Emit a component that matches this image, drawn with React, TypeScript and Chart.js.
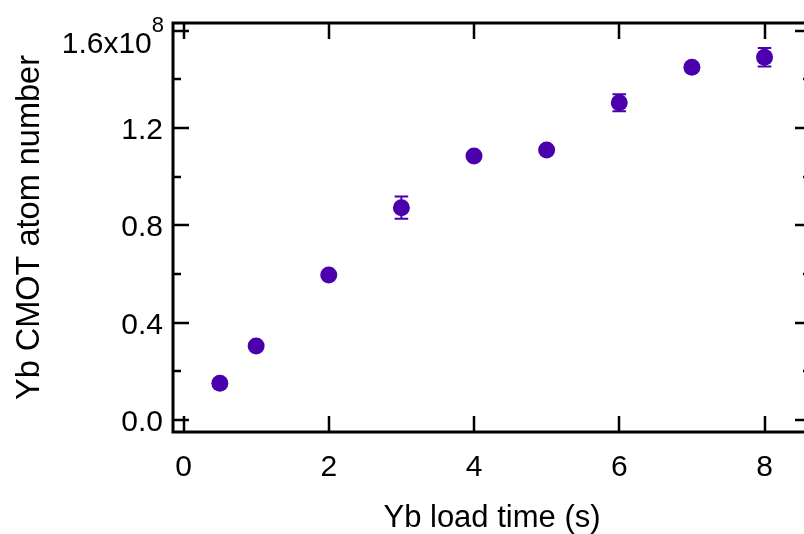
import React, { useEffect, useRef } from "react";
import { Chart, registerables } from "chart.js";

Chart.register(...registerables);

// Yb load time (s)
const loadTime = [0.5, 1, 2, 3, 4, 5, 6, 7, 8];
// Yb CMOT atom number, in units of 1e8
const atomNumber = [0.151, 0.304, 0.596, 0.873, 1.085, 1.11, 1.304, 1.45, 1.491];
const atomError = [0, 0, 0, 0.046, 0, 0, 0.035, 0, 0.038];

const xTickValues = [0, 2, 4, 6, 8];
const yMajorTicks = [0, 0.4, 0.8, 1.2, 1.6];
const yMinorTicks = [0.2, 0.6, 1.0, 1.4];
const yTickLabels = ["0.0", "0.4", "0.8", "1.2", "1.6x10"];
const yTopExponent = "8";

const FONT = "'Liberation Sans', Arial, sans-serif";
const MARK = "#4b00ae";
const TICK_FONT = 30;

const framePlugin = {
  id: "frame",
  beforeDatasetsDraw(chart: any) {
    const ctx = chart.ctx;
    const xs = chart.scales.x;
    const ys = chart.scales.y;
    ctx.save();
    ctx.strokeStyle = MARK;
    ctx.lineWidth = 2;
    const cap = 6.8;
    loadTime.forEach((t, i) => {
      const e = atomError[i];
      if (!e) return;
      const px = xs.getPixelForValue(t);
      const y1 = ys.getPixelForValue(atomNumber[i] + e);
      const y2 = ys.getPixelForValue(atomNumber[i] - e);
      ctx.beginPath();
      ctx.moveTo(px, y1);
      ctx.lineTo(px, y2);
      ctx.moveTo(px - cap, y1);
      ctx.lineTo(px + cap, y1);
      ctx.moveTo(px - cap, y2);
      ctx.lineTo(px + cap, y2);
      ctx.stroke();
    });
    ctx.restore();
  },
  afterDraw(chart: any) {
    const ctx = chart.ctx;
    const { left, right, top, bottom } = chart.chartArea;
    const xs = chart.scales.x;
    const ys = chart.scales.y;
    ctx.save();
    ctx.strokeStyle = "#000";
    ctx.lineCap = "butt";
    ctx.lineWidth = 2.5;
    const major = 16;
    const minor = 8;
    ctx.beginPath();
    xTickValues.forEach((v) => {
      const px = Math.round(xs.getPixelForValue(v));
      ctx.moveTo(px, bottom);
      ctx.lineTo(px, bottom - major);
      ctx.moveTo(px, top);
      ctx.lineTo(px, top + major);
    });
    yMajorTicks.forEach((v) => {
      const py = Math.round(ys.getPixelForValue(v));
      ctx.moveTo(left, py);
      ctx.lineTo(left + major, py);
      ctx.moveTo(right, py);
      ctx.lineTo(right - major, py);
    });
    yMinorTicks.forEach((v) => {
      const py = Math.round(ys.getPixelForValue(v));
      ctx.moveTo(left, py);
      ctx.lineTo(left + minor, py);
      ctx.moveTo(right, py);
      ctx.lineTo(right - minor, py);
    });
    ctx.stroke();
    ctx.lineWidth = 3;
    ctx.strokeRect(left, top, right - left, bottom - top);
    ctx.fillStyle = "#000";
    ctx.textAlign = "right";
    ctx.textBaseline = "alphabetic";
    const labelRight = left - 10;
    yMajorTicks.forEach((v, i) => {
      const py = ys.getPixelForValue(v);
      if (i === yMajorTicks.length - 1) {
        ctx.font = `22px ${FONT}`;
        const w = ctx.measureText(yTopExponent).width;
        ctx.fillText(yTopExponent, labelRight + 1, py + 1);
        ctx.font = `${TICK_FONT}px ${FONT}`;
        ctx.fillText(yTickLabels[i], labelRight + 1 - w, py + 22.5);
      } else {
        ctx.font = `${TICK_FONT}px ${FONT}`;
        ctx.fillText(yTickLabels[i], labelRight, py + 11);
      }
    });
    ctx.restore();
  },
};

export default function App() {
  const ref = useRef<HTMLCanvasElement | null>(null);
  useEffect(() => {
    if (!ref.current) return;
    const chart = new Chart(ref.current, {
      type: "scatter",
      data: {
        datasets: [
          {
            data: loadTime.map((t, i) => ({ x: t, y: atomNumber[i] })),
            backgroundColor: MARK,
            borderColor: MARK,
            borderWidth: 0,
            pointRadius: 8.5,
            pointHoverRadius: 8.5,
          },
        ],
      },
      options: {
        responsive: false,
        animation: false,
        devicePixelRatio: 1,
        events: [],
        layout: { padding: { top: 23, right: 9, left: 0, bottom: 0 } },
        plugins: { legend: { display: false }, tooltip: { enabled: false } },
        scales: {
          x: {
            type: "linear",
            min: -0.145,
            max: 8.64,
            bounds: "data",
            afterBuildTicks: (axis: any) => {
              axis.ticks = xTickValues.map((v) => ({ value: v }));
            },
            afterFit: (s: any) => {
              s.height = 102;
            },
            grid: { display: false },
            border: { display: false },
            ticks: {
              color: "#000",
              font: { family: FONT, size: TICK_FONT },
              padding: 10,
              maxRotation: 0,
              autoSkip: false,
            },
            title: {
              display: true,
              text: "Yb load time (s)",
              color: "#000",
              font: { family: FONT, size: 31, lineHeight: 1 },
              padding: { top: 0, bottom: 0.5 },
            },
          },
          y: {
            type: "linear",
            min: -0.049,
            max: 1.632,
            bounds: "data",
            afterBuildTicks: (axis: any) => {
              axis.ticks = [...yMajorTicks, ...yMinorTicks]
                .sort((a, b) => a - b)
                .map((v) => ({ value: v }));
            },
            afterFit: (s: any) => {
              s.width = 173;
            },
            grid: { display: false },
            border: { display: false },
            ticks: { display: false },
            title: {
              display: true,
              text: "Yb CMOT atom number",
              color: "#000",
              font: { family: FONT, size: 32.5, lineHeight: 1 },
              padding: { top: 14, bottom: 0 },
            },
          },
        },
      },
      plugins: [framePlugin],
    });
    return () => chart.destroy();
  }, []);
  return (
    <div
      style={{
        position: "absolute",
        left: 0,
        top: 0,
        width: 804,
        height: 534,
        overflow: "hidden",
        background: "#fff",
      }}
    >
      <canvas ref={ref} width={820} height={534} style={{ display: "block" }} />
    </div>
  );
}
